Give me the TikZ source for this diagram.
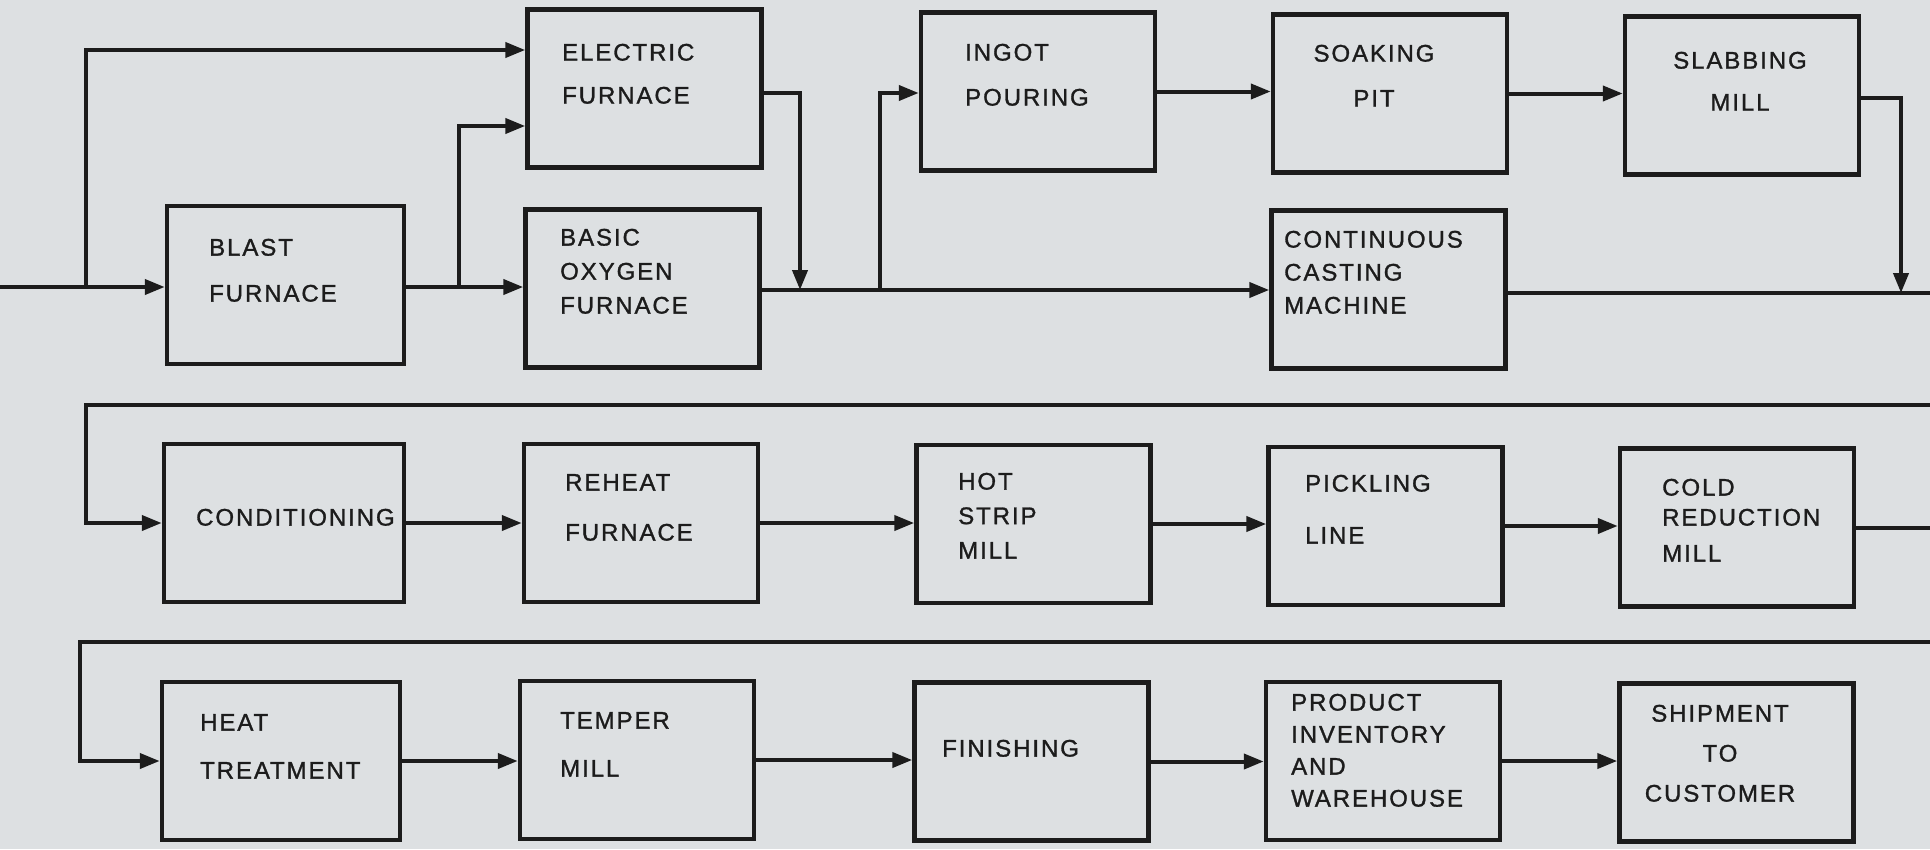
\documentclass[tikz,border=0pt]{standalone}
\usepackage{fontspec}
\newfontfamily\hand[LetterSpace=8,FakeBold=1.2]{Liberation Sans}
\usetikzlibrary{arrows.meta}
\definecolor{paper}{RGB}{221,224,226}
\definecolor{ink}{RGB}{28,28,28}

\begin{document}
\begin{tikzpicture}[
  x=1pt, y=-1pt,
  box/.style={draw=ink,line width=4.5pt,minimum width=234pt,minimum height=158pt,inner sep=0pt},
  flow/.style={-{Triangle[length=20pt,width=15pt]},line width=4pt,draw=ink},
  wire/.style={line width=4pt,draw=ink},
  lbl/.style={font=\hand\fontsize{24}{28.8}\selectfont,text=ink,align=left,anchor=base west,inner sep=0pt},
  lblc/.style={lbl,align=center,anchor=base}]

\useasboundingbox (0,0) rectangle (1930,849);
\fill[paper] (0,0) rectangle (1930,849);

\node[box,minimum width=237pt] (bf) at ( 285.5, 285.0) {};
\node[box] (ef)  at ( 644.5,  88.5) {};
\node[box] (bof) at ( 642.5, 288.5) {};
\node[box] (ip)  at (1038.0,  91.5) {};
\node[box] (sp)  at (1390.0,  93.5) {};
\node[box] (sm)  at (1742.0,  95.5) {};
\node[box] (ccm) at (1388.5, 289.5) {};

\node[lbl]  (bf-t)  at ( 209, 301.6) {BLAST\\[17.2pt]FURNACE};
\node[lbl]  (ef-t)  at ( 562, 103.6) {ELECTRIC\\[14.2pt]FURNACE};
\node[lbl]  (bof-t) at ( 560, 313.6) {BASIC\\[5.2pt]OXYGEN\\[5.2pt]FURNACE};
\node[lbl]  (ip-t)  at ( 965, 105.6) {INGOT\\[16.2pt]POURING};
\node[lblc] (sp-t)  at (1374, 106.6) {SOAKING\\[16.2pt]PIT};
\node[lblc] (sm-t)  at (1740, 110.6) {SLABBING\\[13.2pt]MILL};
\node[lbl]  (ccm-t) at (1284, 313.6) {CONTINUOUS\\[4.2pt]CASTING\\[4.2pt]MACHINE};

\coordinate (in)   at (   0, 287);
\coordinate (j1)   at (  86, 287);
\coordinate (j2)   at ( 459, 287);
\coordinate (m1)   at ( 800, 290);
\coordinate (j4)   at ( 880, 290);
\coordinate (m2)   at (1901, 293);
\coordinate (out1) at (1930, 293);

\draw[flow] (in) -- (in -| bf.west);
\draw[flow] (j1) |- (ef.west |- 0,50);
\draw[flow] (bf.east |- j2) -- (j2 -| bof.west);
\draw[flow] (j2) |- (ef.west |- 0,126);
\draw[flow] (ef.east |- 0,93) -| (m1);
\draw[flow] (bof.east |- m1) -- (m1 -| ccm.west);
\draw[flow] (j4) |- (ip.west |- 0,93);
\draw[flow] (ip.east) -- (ip.east -| sp.west);
\draw[flow] (sp.east) -- (sp.east -| sm.west);
\draw[flow] (sm.east |- 0,98) -| (m2);
\draw[wire] (ccm.east |- out1) -- (out1);

\node[box,minimum width=240pt] (cond) at ( 284.0, 523.0) {};
\node[box] (rf)  at ( 641.0, 523.0) {};
\node[box] (hsm) at (1033.5, 524.0) {};
\node[box] (pl)  at (1385.5, 526.0) {};
\node[box] (crm) at (1737.0, 527.5) {};

\node[lbl] (cond-t) at ( 196, 525.6) {CONDITIONING};
\node[lbl] (rf-t)   at ( 565, 540.6) {REHEAT\\[21.2pt]FURNACE};
\node[lbl] (hsm-t)  at ( 958, 558.6) {HOT\\[5.7pt]STRIP\\[5.7pt]MILL};
\node[lbl] (pl-t)   at (1305, 543.6) {PICKLING\\[23.2pt]LINE};
\node[lbl] (crm-t)  at (1662, 561.6) {COLD\\[1.2pt]REDUCTION\\[7.2pt]MILL};

\coordinate (r2e) at (1930, 405);
\coordinate (r2w) at (  86, 405);

\draw[flow] (r2e) -- (r2w) |- (cond.west);
\draw[flow] (cond.east) -- (cond.east -| rf.west);
\draw[flow] (rf.east) -- (rf.east -| hsm.west);
\draw[flow] (hsm.east) -- (hsm.east -| pl.west);
\draw[flow] (pl.east) -- (pl.east -| crm.west);
\draw[wire] (crm.east) -- (crm.east -| r2e);

\node[box,minimum width=238pt] (ht) at ( 281.0, 761.0) {};
\node[box] (tm)  at ( 637.0, 760.0) {};
\node[box] (fin) at (1031.5, 761.5) {};
\node[box] (piw) at (1383.0, 761.0) {};
\node[box] (stc) at (1736.5, 762.5) {};

\node[lbl]  (ht-t)  at ( 200, 778.6) {HEAT\\[19.2pt]TREATMENT};
\node[lbl]  (tm-t)  at ( 560, 776.6) {TEMPER\\[19.2pt]MILL};
\node[lbl]  (fin-t) at ( 942, 756.6) {FINISHING};
\node[lbl]  (piw-t) at (1291, 806.6) {PRODUCT\\[3.2pt]INVENTORY\\[3.2pt]AND\\[3.2pt]WAREHOUSE};
\node[lblc] (stc-t) at (1720, 801.6) {SHIPMENT\\[11.2pt]TO\\[11.2pt]CUSTOMER};

\coordinate (r3e) at (1930, 642);
\coordinate (r3w) at (  80, 642);

\draw[flow] (r3e) -- (r3w) |- (ht.west);
\draw[flow] (ht.east) -- (ht.east -| tm.west);
\draw[flow] (tm.east) -- (tm.east -| fin.west);
\draw[flow] (fin.east) -- (fin.east -| piw.west);
\draw[flow] (piw.east) -- (piw.east -| stc.west);
\end{tikzpicture}
\end{document}
